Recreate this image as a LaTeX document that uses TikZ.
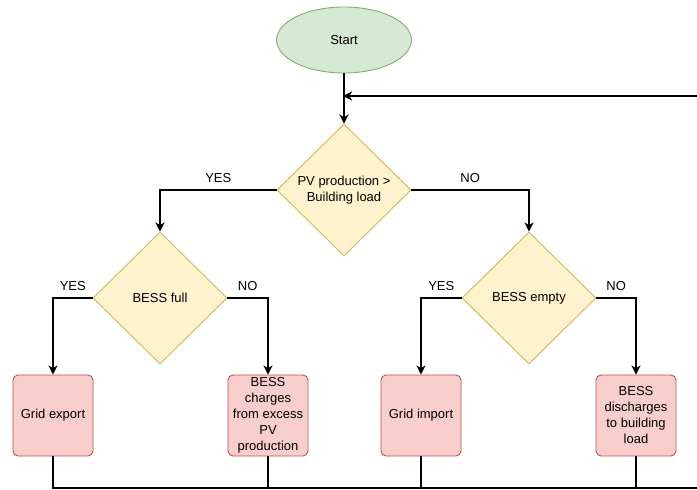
\documentclass[tikz,border=0pt]{standalone}
\usepackage{fontspec}
\setmainfont{Liberation Sans}
\usetikzlibrary{shapes.geometric,arrows.meta}
\definecolor{gfill}{HTML}{D5E8D4}
\definecolor{gstroke}{HTML}{82B366}
\definecolor{yfill}{HTML}{FFF2CC}
\definecolor{ystroke}{HTML}{D6B656}
\definecolor{rfill}{HTML}{F8CECC}
\definecolor{rstroke}{HTML}{B85450}
\begin{document}
\begin{tikzpicture}[x=1pt,y=-1pt,
  font=\fontsize{13}{16}\selectfont,
  conn/.style={line width=1.6pt, draw=black},
  arr/.style={conn,-{Stealth[length=9pt,width=9pt,inset=2.5pt]}},
  startnode/.style={ellipse, draw=gstroke, fill=gfill, line width=0.9pt, minimum width=135pt, minimum height=66pt},
  decision/.style={diamond, draw=ystroke, fill=yfill, line width=0.9pt, minimum width=134pt, minimum height=132pt, inner sep=0pt, align=center},
  action/.style={rectangle, rounded corners=5pt, draw=rstroke, fill=rfill, line width=0.9pt, minimum width=80pt, minimum height=81pt, align=center, inner sep=0pt},
  lbl/.style={inner sep=0pt, above=7pt}]
\useasboundingbox (0,0) rectangle (697,490);

\node[startnode] (start) at (344,40) {Start};
\node[decision] (pv) at (344,190) {PV production >\\Building load};
\node[decision] (full) at (160,298) {BESS full};
\node[decision] (empty) at (529,298) {BESS empty};
\node[action] (export) at (53,415.5) {Grid export};
\node[action] (charge) at (268,415.5) {BESS\\charges\\from excess\\PV\\production};
\node[action] (import) at (421,415.5) {Grid import};
\node[action] (discharge) at (636,415.5) {BESS\\discharges\\to building\\load};

\draw[arr] (start.south) -- (pv.north);
\draw[arr] (pv.west) -| (full.north) node[lbl, pos=0.25] {YES};
\draw[arr] (pv.east) -| (empty.north) node[lbl, pos=0.25] {NO};
\draw[arr] (full.west) -| (export.north) node[lbl, pos=0.25] {YES};
\draw[arr] (full.east) -| (charge.north) node[lbl, pos=0.25] {NO};
\draw[arr] (empty.west) -| (import.north) node[lbl, pos=0.25] {YES};
\draw[arr] (empty.east) -| (discharge.north) node[lbl, pos=0.25] {NO};

\coordinate (bl) at (53,488);
\coordinate (br) at (702,488);
\coordinate (fb) at (702,96);
\draw[conn] (export.south) -- (bl) -- (br);
\draw[conn] (charge.south) -- (charge.south |- bl);
\draw[conn] (import.south) -- (import.south |- bl);
\draw[conn] (discharge.south) -- (discharge.south |- bl);
\draw[arr, shorten >=-1pt] (fb) -- (pv.north |- fb);
\end{tikzpicture}
\end{document}
